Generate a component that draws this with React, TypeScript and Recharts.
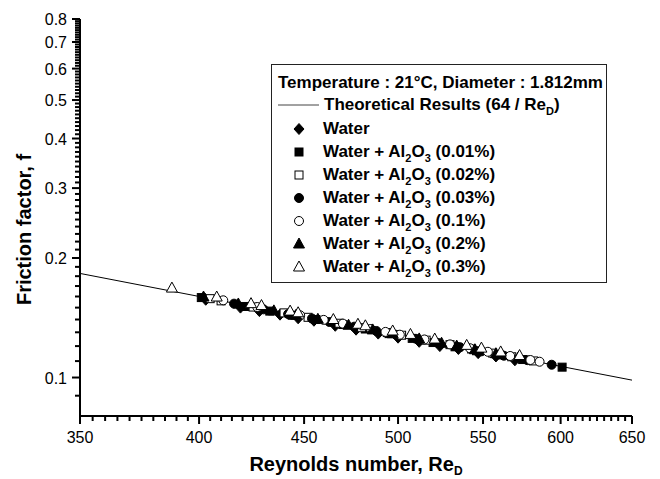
import React from 'react'
import { ScatterChart, Scatter, XAxis, YAxis } from 'recharts'

const FONT = "'Liberation Sans', Arial, Helvetica, sans-serif"

// theoretical curve 64 / Re at both ends of the x range
const theoryRe = [350, 650]
const theoryF = [0.1829, 0.0985]

const waterRe = [403, 419, 428, 438, 447, 455, 466, 477, 489, 500, 512, 524, 535, 547, 558, 570]
const waterF = [0.157, 0.150, 0.147, 0.144, 0.141, 0.139, 0.135, 0.132, 0.129, 0.126, 0.123, 0.120, 0.118, 0.1152, 0.113, 0.1105]

const al001Re = [401, 421, 433, 444, 456, 470, 482, 495, 508, 520, 533, 546, 560, 575, 601]
const al001F = [0.159, 0.151, 0.147, 0.1435, 0.140, 0.136, 0.1325, 0.129, 0.1255, 0.1225, 0.1195, 0.1168, 0.114, 0.111, 0.1062]

const al002Re = [405, 410, 425, 440, 452, 468, 480, 494, 502, 516, 530, 543, 556, 568, 582]
const al002F = [0.158, 0.156, 0.1505, 0.1455, 0.1418, 0.137, 0.1335, 0.1298, 0.1278, 0.1242, 0.121, 0.118, 0.1152, 0.1128, 0.1101]

const al003Re = [416, 430, 442, 454, 463, 476, 488, 499, 511, 523, 536, 549, 563, 578, 594]
const al003F = [0.1535, 0.1485, 0.1445, 0.1408, 0.138, 0.1343, 0.131, 0.1281, 0.125, 0.1222, 0.1192, 0.1164, 0.1135, 0.1106, 0.1077]

const al01Re = [411, 427, 448, 460, 470, 485, 493, 501, 515, 530, 542, 553, 567, 580, 586]
const al01F = [0.1565, 0.1505, 0.1435, 0.1397, 0.1367, 0.1325, 0.1303, 0.1282, 0.1247, 0.1212, 0.1185, 0.1161, 0.1133, 0.1107, 0.1096]

const al02Re = [402, 418, 435, 446, 457, 473, 486, 497, 512, 525, 534, 545, 558, 572]
const al02F = [0.1595, 0.1532, 0.1472, 0.1436, 0.1402, 0.1354, 0.1318, 0.1289, 0.1251, 0.122, 0.12, 0.1175, 0.1148, 0.112]

const al03Re = [388, 408, 424, 429, 443, 447, 465, 478, 482, 497, 507, 521, 540, 549, 561, 573]
const al03F = [0.168, 0.1595, 0.1535, 0.1518, 0.147, 0.1456, 0.140, 0.1362, 0.135, 0.131, 0.1284, 0.125, 0.1205, 0.1186, 0.116, 0.1136]

const xMajor = [350, 400, 450, 500, 550, 600, 650]
const yMajor = [0.1, 0.2, 0.3, 0.4, 0.5, 0.6, 0.7, 0.8]

// minor ticks: every 5 on x, every 0.01 on y
const xMinor: number[] = []
for (let v = 355; v < 650; v += 5) if (v % 50 !== 0) xMinor.push(v)
const yMinor: number[] = [0.09]
for (let i = 11; i < 80; i++) if (i % 10 !== 0) yMinor.push(i / 100)

const xTicks = [...xMajor, ...xMinor]
const yTicks = [...yMajor, ...yMinor]

const toPoints = (re: number[], f: number[]) => re.map((r, i) => ({ re: r, f: f[i] }))

type Kind = 'diamond' | 'square' | 'circle' | 'triangle'

const series: { conc: string | null; re: number[]; f: number[]; kind: Kind; filled: boolean }[] = [
  { conc: null, re: waterRe, f: waterF, kind: 'diamond', filled: true },
  { conc: '0.01%', re: al001Re, f: al001F, kind: 'square', filled: true },
  { conc: '0.02%', re: al002Re, f: al002F, kind: 'square', filled: false },
  { conc: '0.03%', re: al003Re, f: al003F, kind: 'circle', filled: true },
  { conc: '0.1%', re: al01Re, f: al01F, kind: 'circle', filled: false },
  { conc: '0.2%', re: al02Re, f: al02F, kind: 'triangle', filled: true },
  { conc: '0.3%', re: al03Re, f: al03F, kind: 'triangle', filled: false }
]

function Marker({ cx, cy, kind, filled }: { cx: number; cy: number; kind: Kind; filled: boolean }) {
  const style = { fill: filled ? '#000' : '#fff', stroke: '#000', strokeWidth: 1 }
  if (cx == null || cy == null) return <g />
  switch (kind) {
    case 'diamond':
      return <polygon points={`${cx},${cy - 5.5} ${cx + 5},${cy} ${cx},${cy + 5.5} ${cx - 5},${cy}`} {...style} />
    case 'square':
      return <rect x={cx - 4} y={cy - 4} width={8} height={8} {...style} />
    case 'circle':
      return <circle cx={cx} cy={cy} r={4.5} {...style} />
    default:
      return <polygon points={`${cx},${cy - 6} ${cx + 5.5},${cy + 4} ${cx - 5.5},${cy + 4}`} {...style} />
  }
}

const isMajor = (list: number[], v: number) => list.some(m => Math.abs(m - v) < 1e-9)

// major ticks get a label and a longer tick line
function XTick(props: any) {
  const x = Number(props.x)
  const y = Number(props.y)
  const major = isMajor(xMajor, props.payload.value)
  return (
    <g>
      <line x1={x} x2={x} y1={y} y2={y + (major ? 8 : 5)} stroke="#000" strokeWidth={2} />
      {major && (
        <text x={x} y={y + 27} textAnchor="middle" fontSize={16} fontFamily={FONT} fill="#000">
          {props.payload.value}
        </text>
      )}
    </g>
  )
}

function YTick(props: any) {
  const x = Number(props.x)
  const y = Number(props.y)
  const major = isMajor(yMajor, props.payload.value)
  return (
    <g>
      <line x1={x} x2={x - (major ? 8 : 5)} y1={y} y2={y} stroke="#000" strokeWidth={2} />
      {major && (
        <text x={x - 13} y={y + 6} textAnchor="end" fontSize={16} fontFamily={FONT} fill="#000">
          {props.payload.value}
        </text>
      )}
    </g>
  )
}

function XTitle({ viewBox }: any) {
  const vb = viewBox || { x: 80, y: 416, width: 552, height: 63 }
  return (
    <text x={vb.x + vb.width / 2} y={vb.y + 55} textAnchor="middle" fontSize={20} fontWeight="bold" fontFamily={FONT} fill="#000">
      Reynolds number, Re<tspan fontSize={12} dy={4}>D</tspan>
    </text>
  )
}

function YTitle({ viewBox }: any) {
  const vb = viewBox || { x: 0, y: 19, width: 80, height: 397 }
  const tx = vb.x + 31
  const ty = vb.y + vb.height / 2 + 12
  return (
    <text x={tx} y={ty} transform={`rotate(-90 ${tx} ${ty})`} textAnchor="middle" fontSize={20} fontWeight="bold" fontFamily={FONT} fill="#000">
      Friction factor, f
    </text>
  )
}

const subStyle: React.CSSProperties = { fontSize: 11, verticalAlign: -5, lineHeight: 0 }

function SeriesLabel({ conc }: { conc: string | null }) {
  if (!conc) return <span>Water</span>
  return (
    <span>
      Water + Al<sub style={subStyle}>2</sub>O<sub style={subStyle}>3</sub> ({conc})
    </span>
  )
}

function LegendBox() {
  const row = (top: number): React.CSSProperties => ({
    position: 'absolute',
    left: 0,
    top,
    height: 22,
    display: 'flex',
    alignItems: 'center',
    whiteSpace: 'nowrap'
  })
  return (
    <div
      style={{
        position: 'absolute',
        left: 271,
        top: 64,
        width: 336,
        height: 219,
        border: '1px solid #222',
        boxSizing: 'border-box',
        background: '#fff',
        fontFamily: FONT,
        fontWeight: 'bold',
        fontSize: 17,
        color: '#000'
      }}
    >
      <div style={{ ...row(7), left: 6 }}>Temperature : 21°C, Diameter : 1.812mm</div>
      <div style={{ ...row(29), left: 6 }}>
        <svg width={41} height={4} style={{ marginRight: 5 }}>
          <line x1={0} x2={41} y1={2} y2={2} stroke="#444" strokeWidth={1} />
        </svg>
        <span>
          Theoretical Results (64 / Re<sub style={subStyle}>D</sub>)
        </span>
      </div>
      {series.map((s, i) => (
        <div key={i} style={{ ...row(53 + i * 23), left: 20 }}>
          <svg width={14} height={14} style={{ marginRight: 17 }}>
            <Marker cx={7} cy={7} kind={s.kind} filled={s.filled} />
          </svg>
          <SeriesLabel conc={s.conc} />
        </div>
      ))}
    </div>
  )
}

export default function App() {
  return (
    <div style={{ position: 'absolute', left: 0, top: 0, width: 660, height: 479, background: '#fff' }}>
      <ScatterChart width={660} height={479} margin={{ top: 19, right: 28, bottom: 0, left: 0 }}>
        <XAxis
          dataKey="re"
          type="number"
          scale="log"
          domain={[350, 650]}
          allowDataOverflow
          ticks={xTicks}
          interval={0}
          tickSize={0}
          tickMargin={0}
          tickLine={false}
          tick={(p: any) => <XTick {...p} />}
          height={63}
          axisLine={{ stroke: '#000', strokeWidth: 2 }}
          label={<XTitle />}
        />
        <YAxis
          dataKey="f"
          type="number"
          scale="log"
          domain={[0.08, 0.8]}
          allowDataOverflow
          ticks={yTicks}
          interval={0}
          tickSize={0}
          tickMargin={0}
          tickLine={false}
          tick={(p: any) => <YTick {...p} />}
          width={80}
          axisLine={{ stroke: '#000', strokeWidth: 2 }}
          label={<YTitle />}
        />
        <Scatter
          data={toPoints(theoryRe, theoryF)}
          line={{ stroke: '#000', strokeWidth: 1 }}
          shape={() => <g />}
          isAnimationActive={false}
        />
        {series.map((s, i) => (
          <Scatter
            key={i}
            data={toPoints(s.re, s.f)}
            shape={(p: any) => <Marker cx={p.cx} cy={p.cy} kind={s.kind} filled={s.filled} />}
            isAnimationActive={false}
          />
        ))}
      </ScatterChart>
      <LegendBox />
    </div>
  )
}
